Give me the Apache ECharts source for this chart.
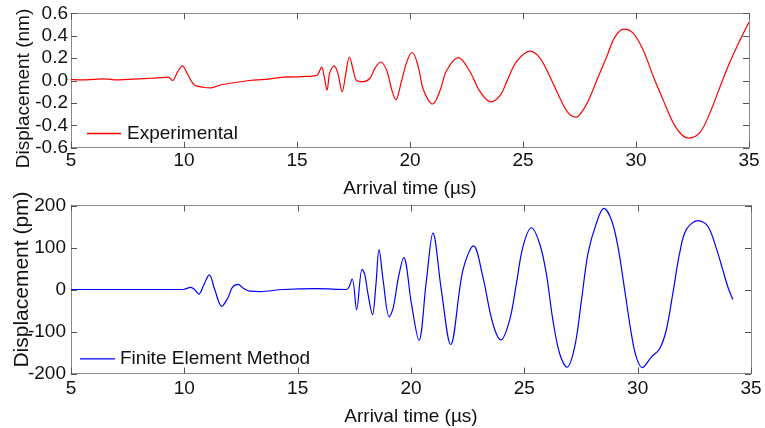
<!DOCTYPE html>
<html>
<head>
<meta charset="utf-8">
<script src="https://cdn.jsdelivr.net/npm/echarts@6/dist/echarts.min.js"></script>
<style>
  html, body { margin: 0; padding: 0; background: #fff; }
  #chart { width: 765px; height: 428px; }
</style>
</head>
<body>
<div id="chart"></div>
<script>
// Measured displacement (nm) against arrival time (µs)
const expTime = [5.0, 5.5, 6.0, 6.5, 7.0, 7.5, 8.0, 8.5, 9.0, 9.3, 9.5, 9.7, 9.93, 10.15, 10.46, 10.85, 11.2, 11.6, 12.2, 12.9,
  13.6, 14.4, 15.2, 15.87, 16.09, 16.2, 16.33, 16.45, 16.64, 16.8, 17.0, 17.15, 17.32, 17.48, 17.64, 17.94, 18.23, 18.45, 18.7, 18.97,
  19.19, 19.37, 19.63, 19.88, 20.1, 20.37, 20.59, 21.0, 21.33, 21.62, 22.14, 22.65, 23.1, 23.57, 24.0, 24.28, 24.72, 25.31, 25.75, 26.19,
  26.64, 27.0, 27.35, 27.67, 27.96, 28.26, 28.7, 29.07, 29.47, 29.88, 30.32, 30.77, 31.2, 31.65, 32.02, 32.36, 32.83, 33.27, 33.72, 34.16,
  34.6, 35.0];
const expDisp = [0.01, 0.005, 0.01, 0.015, 0.005, 0.01, 0.015, 0.02, 0.025, 0.03, 0.0, 0.07, 0.13, 0.06, -0.04, -0.06, -0.065, -0.04, -0.02, 0.0,
  0.01, 0.03, 0.035, 0.046, 0.12, 0.04, -0.085, 0.07, 0.13, 0.07, -0.10, 0.05, 0.21, 0.10, 0.0, -0.01, 0.02, 0.11, 0.165, 0.09,
  -0.08, -0.173, 0.0, 0.18, 0.25, 0.12, -0.08, -0.21, -0.09, 0.09, 0.205, 0.08, -0.10, -0.19, -0.13, -0.01, 0.17, 0.262, 0.20, 0.034,
  -0.16, -0.29, -0.327, -0.26, -0.15, 0.0, 0.21, 0.39, 0.458, 0.42, 0.27, 0.034, -0.173, -0.38, -0.484, -0.514, -0.464, -0.29, -0.055, 0.167,
  0.36, 0.52];

// Simulated displacement (pm) from the finite element model
const femTime = [5.0, 9.95, 10.28, 10.45, 10.64, 10.85, 11.1, 11.35, 11.65, 11.94, 12.12, 12.38, 12.6, 12.9, 13.34, 14.36, 15.83, 17.15,
  17.4, 17.6, 17.84, 17.96, 18.1, 18.3, 18.45, 18.59, 18.77, 19.04, 19.21, 19.45, 19.68, 20.02, 20.35, 20.68, 20.97, 21.34, 21.75,
  22.29, 22.76, 23.17, 23.61, 23.97, 24.35, 24.65, 24.94, 25.31, 25.67, 25.97, 26.26, 26.56, 26.88, 27.22, 27.52, 27.81, 28.18,
  28.51, 28.84, 29.13, 29.43, 29.72, 29.94, 30.2, 30.6, 30.97, 31.26, 31.55, 31.85, 32.14, 32.66, 33.1, 33.47, 33.76, 33.98, 34.2];
const femDisp = [0, 0, 5, 0, -11, 10, 35, -2, -40, -18, 5, 12, 3, -4, -5, 0, 2, 0,
  25, -48, 48, 36, -10, -60, 10, 95, 22, -65, -45, 30, 76, -34, -121, 22, 134, -2, -131,
  46, 104, 30, -81, -120, -73, 14, 102, 147, 110, 38, -73, -153, -185, -137, -26, 86, 158,
  193, 166, 102, -2, -105, -161, -186, -161, -141, -97, -10, 86, 142, 164, 150, 98, 46, 6, -24];

// Axis ranges and ticks
const timeTicks = [5, 10, 15, 20, 25, 30, 35];
const nmTicks = [-0.6, -0.4, -0.2, 0.0, 0.2, 0.4, 0.6];
const pmTicks = [-200, -100, 0, 100, 200];

const seriesNames = ['Experimental', 'Finite Element Method'];
const timeTitle = 'Arrival time (µs)';
const nmTitle = 'Displacement (nm)';
const pmTitle = 'Displacement (pm)';

const FONT = '"Liberation Sans", Arial, sans-serif';
const BOX = '#8a8a8a';
const TICK = '#555';
const TXT = '#111';

const pairs = (xs, ys) => xs.map((x, i) => [x, ys[i]]);
const oneDecimal = v => (Math.abs(v) < 1e-9 ? 0 : v).toFixed(1);

function xAxisFor(grid, labelled, position, margin, gap) {
  return {
    type: 'value', gridIndex: grid, position: position,
    min: timeTicks[0], max: timeTicks[timeTicks.length - 1], interval: timeTicks[1] - timeTicks[0],
    name: labelled ? timeTitle : '', nameLocation: 'middle', nameGap: gap, nameMoveOverlap: false,
    nameTextStyle: { fontFamily: FONT, fontSize: 19, color: TXT },
    axisLine: { show: true, onZero: false, lineStyle: { color: BOX, width: 1 } },
    axisTick: { show: false },
    axisLabel: { show: labelled, margin: margin, fontFamily: FONT, fontSize: 19, color: TXT },
    splitLine: { show: false }
  };
}

function yAxisFor(grid, ticks, labelled, position, title, fmt, margin, gap, pad, size) {
  return {
    type: 'value', gridIndex: grid, position: position,
    min: ticks[0], max: ticks[ticks.length - 1], interval: ticks[1] - ticks[0],
    name: labelled ? title : '', nameLocation: 'middle', nameGap: gap, nameRotate: 90, nameMoveOverlap: false,
    nameTextStyle: { fontFamily: FONT, fontSize: size, color: TXT, padding: pad },
    axisLine: { show: true, onZero: false, lineStyle: { color: BOX, width: 1 } },
    axisTick: { show: false },
    axisLabel: { show: labelled, margin: margin, fontFamily: FONT, fontSize: 19, color: TXT, formatter: fmt },
    splitLine: { show: false }
  };
}

// Inward tick marks on all four sides of a panel, placed through the panel's own axes
function tickMarks(xIdx, yIdx, yTicks) {
  return {
    type: 'custom', xAxisIndex: xIdx, yAxisIndex: yIdx, silent: true, clip: false, z: 5,
    data: [[timeTicks[0], yTicks[0]]],
    renderItem: function (params, api) {
      const y0 = yTicks[0], y1 = yTicks[yTicks.length - 1];
      const x0 = timeTicks[0], x1 = timeTicks[timeTicks.length - 1];
      const L = 6, kids = [];
      const st = { stroke: TICK, lineWidth: 1, fill: null };
      timeTicks.forEach(function (t) {
        const b = api.coord([t, y0]), tp = api.coord([t, y1]);
        const x = Math.round(b[0]) + 0.5;
        kids.push({ type: 'line', shape: { x1: x, y1: b[1], x2: x, y2: b[1] - L }, style: st });
        kids.push({ type: 'line', shape: { x1: x, y1: tp[1], x2: x, y2: tp[1] + L }, style: st });
      });
      yTicks.forEach(function (v) {
        const l = api.coord([x0, v]), r = api.coord([x1, v]);
        const y = Math.round(l[1]) + 0.5;
        kids.push({ type: 'line', shape: { x1: l[0], y1: y, x2: l[0] + L, y2: y }, style: st });
        kids.push({ type: 'line', shape: { x1: r[0], y1: y, x2: r[0] - L, y2: y }, style: st });
      });
      return { type: 'group', children: kids };
    }
  };
}

const chart = echarts.init(document.getElementById('chart'), null, { renderer: 'canvas' });
chart.setOption({
  animation: false,
  backgroundColor: '#fff',
  grid: [
    { left: 71, top: 13.3, width: 678, height: 134.4, show: false, containLabel: false, outerBoundsMode: 'none' },
    { left: 71, top: 205.5, width: 680, height: 168, show: false, containLabel: false, outerBoundsMode: 'none' }
  ],
  xAxis: [
    xAxisFor(0, true, 'bottom', 4, 32),
    xAxisFor(1, true, 'bottom', 6, 34),
    xAxisFor(0, false, 'top', 4, 30),
    xAxisFor(1, false, 'top', 4, 30)
  ],
  yAxis: [
    yAxisFor(0, nmTicks, true, 'left', nmTitle, oneDecimal, 3, 38, [0, 16, 0, 0], 19),
    yAxisFor(1, pmTicks, true, 'left', pmTitle, v => String(v), 5, 38, [0, 0, 0, 20], 21),
    yAxisFor(0, nmTicks, false, 'right', '', null, 3, 30, 0, 19),
    yAxisFor(1, pmTicks, false, 'right', '', null, 3, 30, 0, 19)
  ],
  legend: [
    {
      data: [seriesNames[0]], left: 82, top: 119, icon: 'rect', itemWidth: 34, itemHeight: 1.3,
      textStyle: { fontFamily: FONT, fontSize: 19, color: TXT, padding: [0, 0, 0, 1] }
    },
    {
      data: [seriesNames[1]], left: 75, top: 344.3, icon: 'rect', itemWidth: 35, itemHeight: 1.3,
      textStyle: { fontFamily: FONT, fontSize: 19, color: TXT, padding: [0, 0, 0, 0] }
    }
  ],
  series: [
    tickMarks(0, 0, nmTicks),
    tickMarks(1, 1, pmTicks),
    {
      name: seriesNames[0], type: 'line', xAxisIndex: 0, yAxisIndex: 0,
      data: pairs(expTime, expDisp), showSymbol: false, symbol: 'none', smooth: 0.35,
      lineStyle: { color: '#ff0000', width: 1.2 }, itemStyle: { color: '#ff0000' }
    },
    {
      name: seriesNames[1], type: 'line', xAxisIndex: 1, yAxisIndex: 1,
      data: pairs(femTime, femDisp), showSymbol: false, symbol: 'none', smooth: 0.35,
      lineStyle: { color: '#0000ff', width: 1.2 }, itemStyle: { color: '#0000ff' }
    }
  ]
});
</script>
</body>
</html>
